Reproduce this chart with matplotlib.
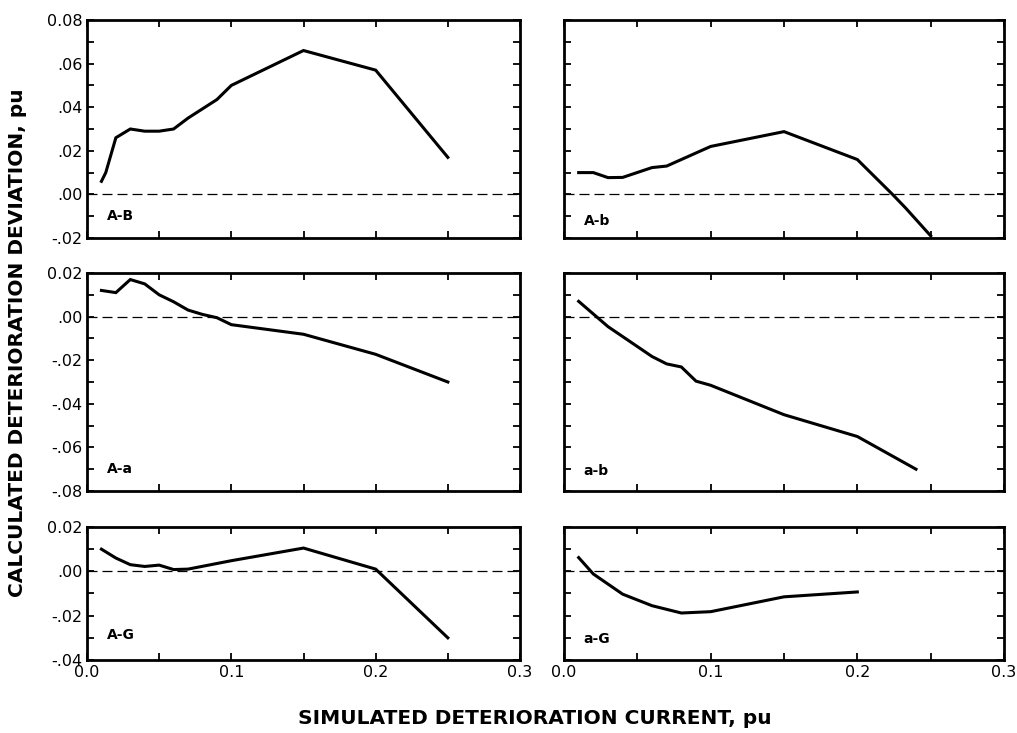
import matplotlib
matplotlib.use("Agg")
import matplotlib.pyplot as plt
from matplotlib.ticker import MultipleLocator, FixedLocator

# ---------------- data ----------------
ab_x = [0.01, 0.013, 0.02, 0.03, 0.04, 0.05, 0.06, 0.07, 0.09, 0.10, 0.15, 0.20, 0.25]
ab_y = [0.006, 0.010, 0.026, 0.030, 0.029, 0.029, 0.030, 0.035, 0.0435, 0.050, 0.066, 0.057, 0.017]

Ab_x = [0.01, 0.02, 0.03, 0.04, 0.06, 0.07, 0.08, 0.10, 0.15, 0.20, 0.224, 0.233, 0.25]
Ab_y = [0.010, 0.010, 0.0077, 0.0078, 0.0123, 0.013, 0.016, 0.022, 0.0288, 0.016, 0.0, -0.0063, -0.019]

Aa_x = [0.01, 0.02, 0.03, 0.04, 0.05, 0.06, 0.07, 0.08, 0.09, 0.10, 0.15, 0.20, 0.25]
Aa_y = [0.012, 0.011, 0.017, 0.015, 0.010, 0.0068, 0.003, 0.001, -0.0005, -0.0037, -0.0081, -0.0173, -0.030]

abl_x = [0.01, 0.03, 0.06, 0.07, 0.08, 0.09, 0.10, 0.15, 0.20, 0.24]
abl_y = [0.007, -0.0046, -0.0183, -0.0217, -0.0231, -0.0296, -0.0315, -0.045, -0.055, -0.070]

AG_x = [0.01, 0.02, 0.03, 0.04, 0.05, 0.06, 0.07, 0.10, 0.15, 0.20, 0.25]
AG_y = [0.010, 0.006, 0.003, 0.0022, 0.0028, 0.0008, 0.001, 0.0048, 0.0105, 0.001, -0.030]

aG_x = [0.01, 0.02, 0.04, 0.06, 0.08, 0.10, 0.15, 0.20]
aG_y = [0.0062, -0.0012, -0.0103, -0.0155, -0.0188, -0.0182, -0.0115, -0.0093]

panel_labels = ["A-B", "A-b", "A-a", "a-b", "A-G", "a-G"]

top_yticks = [-0.02, 0.0, 0.02, 0.04, 0.06, 0.08]
top_yticklabels = ["-.02", ".00", ".02", ".04", ".06", "0.08"]
mid_yticks = [-0.08, -0.06, -0.04, -0.02, 0.0, 0.02]
mid_yticklabels = ["-.08", "-.06", "-.04", "-.02", ".00", "0.02"]
bot_yticks = [-0.04, -0.02, 0.0, 0.02]
bot_yticklabels = ["-.04", "-.02", ".00", "0.02"]
xticks = [0.0, 0.1, 0.2, 0.3]
xticklabels = ["0.0", "0.1", "0.2", "0.3"]

xlabel = "SIMULATED DETERIORATION CURRENT, pu"
ylabel = "CALCULATED DETERIORATION DEVIATION, pu"

# ---------------- figure ----------------
plt.rcParams['font.family'] = ['DejaVu Sans']
fig = plt.figure(figsize=(10.17, 7.33), dpi=100)

W, H = 1017.0, 733.0
cols = [(87, 520), (564, 1004)]
rows = [(20, 238), (273, 491), (527, 660)]

series = [(ab_x, ab_y), (Ab_x, Ab_y), (Aa_x, Aa_y), (abl_x, abl_y), (AG_x, AG_y), (aG_x, aG_y)]
ylims = [(-0.02, 0.08), (-0.08, 0.02), (-0.04, 0.02)]
yt = [(top_yticks, top_yticklabels), (mid_yticks, mid_yticklabels), (bot_yticks, bot_yticklabels)]
label_pos = [(0.045, 0.10), (0.045, 0.08), (0.045, 0.10), (0.045, 0.09), (0.045, 0.19), (0.045, 0.16)]

for r in range(3):
    for c in range(2):
        i = r * 2 + c
        x0, x1 = cols[c]
        t, b = rows[r]
        ax = fig.add_axes([x0 / W, (H - b) / H, (x1 - x0) / W, (b - t) / H])
        xs, ys = series[i]
        ax.plot(xs, ys, color='black', lw=2.2, solid_joinstyle='miter')
        ax.axhline(0.0, color='black', lw=0.9, dashes=(8, 4))
        ax.set_xlim(0, 0.3)
        ax.set_ylim(*ylims[r])
        ax.xaxis.set_major_locator(FixedLocator(xticks))
        ax.xaxis.set_minor_locator(MultipleLocator(0.05))
        ax.yaxis.set_major_locator(FixedLocator(yt[r][0]))
        ax.yaxis.set_minor_locator(MultipleLocator(0.01))
        ax.tick_params(which='both', direction='in', top=True, right=True,
                       length=5, width=1.3, labelsize=11.5)
        if c == 0:
            ax.set_yticklabels(yt[r][1])
        else:
            ax.set_yticklabels([])
        if r == 2:
            ax.set_xticklabels(xticklabels)
        else:
            ax.set_xticklabels([])
        for s in ax.spines.values():
            s.set_linewidth(2.0)
        ax.text(label_pos[i][0], label_pos[i][1], panel_labels[i], transform=ax.transAxes,
                fontsize=10, fontweight='bold', va='center', ha='left')

fig.text(0.017, 0.532, ylabel, rotation=90, ha='center', va='center',
         fontsize=14.5, fontweight='bold')
fig.text(0.526, 0.020, xlabel, ha='center', va='center',
         fontsize=14.5, fontweight='bold')

fig.savefig("out.png", dpi=100)
